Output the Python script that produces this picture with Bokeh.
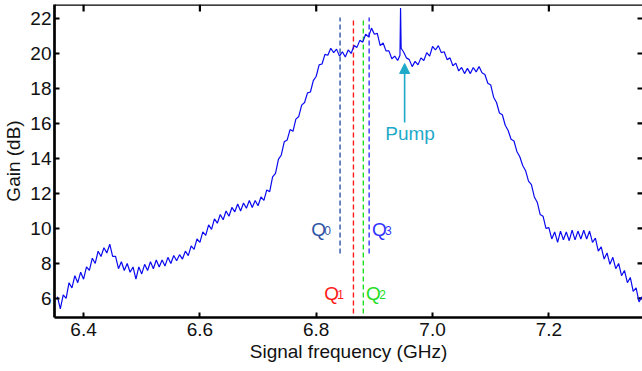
from bokeh.plotting import figure
from bokeh.models import FixedTicker, Arrow, NormalHead, Label, Span
from bokeh.core.properties import value
from bokeh.embed import file_html
from bokeh.resources import INLINE

# ---------------- data ----------------
freq = [
    6.355, 6.360, 6.365, 6.370, 6.375, 6.380, 6.385, 6.390, 6.395, 6.400,
    6.405, 6.410, 6.415, 6.420, 6.425, 6.430, 6.435, 6.440, 6.445, 6.450,
    6.455, 6.460, 6.465, 6.470, 6.475, 6.480, 6.485, 6.490, 6.495, 6.500,
    6.505, 6.510, 6.515, 6.520, 6.525, 6.530, 6.535, 6.540, 6.545, 6.550,
    6.555, 6.560, 6.565, 6.570, 6.575, 6.580, 6.585, 6.590, 6.595, 6.600,
    6.605, 6.610, 6.615, 6.620, 6.625, 6.630, 6.635, 6.640, 6.645, 6.650,
    6.655, 6.660, 6.665, 6.670, 6.675, 6.680, 6.685, 6.690, 6.695, 6.700,
    6.705, 6.710, 6.715, 6.720, 6.725, 6.730, 6.735, 6.740, 6.745, 6.750,
    6.755, 6.760, 6.765, 6.770, 6.775, 6.780, 6.785, 6.790, 6.795, 6.800,
    6.805, 6.810, 6.815, 6.820, 6.825, 6.830, 6.835, 6.840, 6.845, 6.850,
    6.855, 6.860, 6.865, 6.870, 6.875, 6.880, 6.885, 6.890, 6.895, 6.900,
    6.905, 6.910, 6.915, 6.920, 6.925, 6.930, 6.935, 6.940, 6.944, 6.945, 6.946, 6.950,
    6.955, 6.960, 6.965, 6.970, 6.975, 6.980, 6.985, 6.990, 6.995, 7.000,
    7.005, 7.010, 7.015, 7.020, 7.025, 7.030, 7.035, 7.040, 7.045, 7.050,
    7.055, 7.060, 7.065, 7.070, 7.075, 7.080, 7.085, 7.090, 7.095, 7.100,
    7.105, 7.110, 7.115, 7.120, 7.125, 7.130, 7.135, 7.140, 7.145, 7.150,
    7.155, 7.160, 7.165, 7.170, 7.175, 7.180, 7.185, 7.190, 7.195, 7.200,
    7.205, 7.210, 7.215, 7.220, 7.225, 7.230, 7.235, 7.240, 7.245, 7.250,
    7.255, 7.260, 7.265, 7.270, 7.275, 7.280, 7.285, 7.290, 7.295, 7.300,
    7.305, 7.310, 7.315, 7.320, 7.325, 7.330, 7.335, 7.340, 7.345, 7.350,
    7.355, 7.360,
]
gain_db = [
    6.1, 5.4, 6.2, 6.0, 6.9, 6.6, 7.3, 6.9, 7.5, 7.1,
    7.8, 7.6, 8.3, 8.0, 8.7, 8.4, 8.9, 8.6, 9.1, 8.4,
    8.4, 7.7, 8.1, 7.6, 8.0, 7.5, 7.8, 7.1, 7.8, 7.4,
    7.95, 7.6, 8.1, 7.7, 8.2, 7.8, 8.2, 7.85, 8.35, 8.0,
    8.45, 8.15, 8.5, 8.25, 8.7, 8.45, 9.0, 8.8, 9.4, 9.2,
    9.8, 9.6, 10.2, 9.95, 10.55, 10.3, 10.8, 10.5, 11.0, 10.7,
    11.2, 10.95, 11.4, 11.0, 11.45, 11.15, 11.6, 11.2, 11.6, 11.3,
    11.8, 11.6, 12.2, 12.1, 12.95, 13.15, 13.95, 14.2, 14.95, 15.05,
    15.65, 15.55, 16.25, 16.4, 17.05, 17.2, 17.75, 17.8, 18.45, 18.7,
    19.35, 19.4, 19.95, 19.9, 20.3, 20.05, 20.25, 19.85, 20.1, 19.8,
    20.2, 20.0, 20.45, 20.35, 20.75, 20.65, 21.1, 20.95, 21.45, 21.1,
    21.15, 20.45, 20.6, 20.15, 20.15, 19.7, 19.85, 19.6, 19.9, 22.6, 20.3, 20.1,
    19.75, 19.65, 19.25, 19.55, 19.35, 19.75, 19.6, 20.05, 19.85, 20.4,
    20.2, 20.45, 20.05, 20.1, 19.65, 19.75, 19.3, 19.45, 19.0, 19.2,
    18.85, 19.15, 18.85, 19.2, 18.95, 19.25, 18.9, 18.8, 18.3, 18.2,
    17.5, 17.2, 16.6, 16.5, 15.9, 15.6, 15.1, 15.0, 14.4, 14.1,
    13.6, 13.3, 12.7, 12.5, 11.8, 11.5, 10.8, 10.7, 10.0, 10.05,
    9.4, 9.8, 9.2, 9.85, 9.35, 9.8, 9.3, 9.9, 9.35, 9.85,
    9.4, 9.9, 9.4, 9.85, 9.2, 9.45, 8.7, 8.95, 8.25, 8.6,
    7.95, 8.35, 7.7, 8.0, 7.3, 7.6, 6.9, 7.2, 6.4, 6.6,
    5.8, 6.1,
]

qubit_names = ["Q", "Q", "Q", "Q"]
qubit_index = ["0", "1", "2", "3"]
qubit_freq = [6.841, 6.864, 6.881, 6.891]
qubit_colors = ["#2f55a4", "#ff1a1a", "#22dd22", "#3333ff"]

x_ticks = [6.4, 6.6, 6.8, 7.0, 7.2]
x_tick_labels = ["6.4", "6.6", "6.8", "7.0", "7.2"]
y_ticks = [6, 8, 10, 12, 14, 16, 18, 20, 22]

pump_freq = 6.952

FONT = "Liberation Sans"
X0, X1 = 6.35, 7.361
Y0, Y1 = 4.91, 22.8
W, H = 642, 371
FRAME_W = W - 53
FRAME_H = H - 4 - 54

# ---------------- figure ----------------
p = figure(width=W, height=H, x_range=(X0, X1), y_range=(Y0, Y1),
           output_backend="svg", toolbar_location=None,
           min_border_left=53, min_border_right=0, min_border_top=4, min_border_bottom=54)
p.outline_line_color = None
p.xgrid.visible = False
p.ygrid.visible = False
p.background_fill_color = "white"
p.border_fill_color = "white"


def style_axis(ax):
    ax.axis_line_width = 2.7
    ax.axis_line_color = "black"
    ax.major_tick_in = 5
    ax.major_tick_out = 0
    ax.major_tick_line_width = 2
    ax.major_tick_line_color = "black"
    ax.minor_tick_line_color = None
    ax.major_label_text_font = FONT
    ax.major_label_text_font_size = "19px"
    ax.major_label_text_color = "#111111"
    ax.axis_label_text_font = FONT
    ax.axis_label_text_font_size = "19px"
    ax.axis_label_text_font_style = "normal"
    ax.axis_label_text_color = "#111111"


xa = p.xaxis[0]
style_axis(xa)
xa.ticker = FixedTicker(ticks=x_ticks)
xa.major_label_overrides = {t: s for t, s in zip(x_ticks, x_tick_labels)}
xa.axis_label = "Signal frequency (GHz)"
xa.major_label_standoff = 5
xa.axis_label_standoff = 2

ya = p.yaxis[0]
style_axis(ya)
ya.ticker = FixedTicker(ticks=y_ticks)
ya.axis_label = "Gain (dB)"
ya.major_label_standoff = 3
ya.axis_label_standoff = 3

# top frame line and inward ticks on top / right edges
p.add_layout(Span(location=Y1, dimension="width", line_color="black", line_width=2.7))
dy = 7 * (Y1 - Y0) / FRAME_H
dx = 5 * (X1 - X0) / FRAME_W
p.segment(x0=x_ticks, y0=[Y1] * len(x_ticks), x1=x_ticks, y1=[Y1 - dy] * len(x_ticks),
          line_color="black", line_width=2.2)
p.segment(x0=[X1] * len(y_ticks), y0=y_ticks, x1=[X1 - dx] * len(y_ticks), y1=y_ticks,
          line_color="black", line_width=2.2)

# qubit dashed lines
q_top = 22.06
q_bottom = [8.57, 5.14, 5.14, 8.57]
for f, b, c in zip(qubit_freq, q_bottom, qubit_colors):
    p.line([f, f], [b, q_top], line_color=c, line_width=1.4, line_dash="5 3")

# gain curve
p.line(freq, gain_db, line_color="#0a0af0", line_width=1.2)

# qubit labels
lab_q_x = [6.7914, 6.8137, 6.8858, 6.8961]
lab_q_y = [9.95, 6.3, 6.3, 9.95]
lab_sub_x = [6.8137, 6.8360, 6.9082, 6.9184]
p.text(x=lab_q_x, y=lab_q_y, text=qubit_names, text_color=qubit_colors,
       text_font=value(FONT), text_font_size="19px", text_baseline="alphabetic",
       text_align="left")
p.text(x=lab_sub_x, y=[v - 0.05 for v in lab_q_y], text=qubit_index, text_color=qubit_colors,
       text_font=value(FONT), text_font_size="12px", text_baseline="alphabetic",
       text_align="left")

# pump arrow + label
pump_color = "#1fa9c9"
p.add_layout(Arrow(end=NormalHead(size=10, fill_color=pump_color, line_color=pump_color),
                   x_start=pump_freq, y_start=16.06, x_end=pump_freq, y_end=19.43,
                   line_color=pump_color, line_width=1.6))
p.add_layout(Label(x=6.9614, y=15.45, text="Pump", text_color=pump_color,
                   text_font=FONT, text_font_size="19px", text_align="center",
                   text_baseline="alphabetic"))

open("out.html", "w").write(file_html(p, INLINE))
